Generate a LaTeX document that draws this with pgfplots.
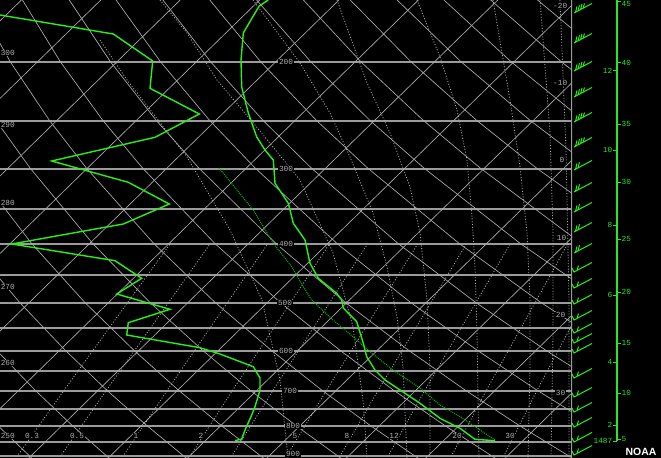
\documentclass[border=0pt]{standalone}
\usepackage{pgfplots}
\pgfplotsset{compat=1.18}
\usepackage{fontspec}
\setmainfont{Liberation Sans}
\newfontfamily\monofont{Liberation Mono}
\definecolor{gridc}{RGB}{175,175,175}
\definecolor{isobar}{RGB}{155,155,155}
\definecolor{snd}{RGB}{40,240,20}
\definecolor{parcel}{RGB}{0,190,0}
\definecolor{scalec}{RGB}{40,230,40}

% wind barbs: shaft up to the right, feathers near the base
\pgfdeclareplotmark{barb3}{%
  \pgfpathmoveto{\pgfpoint{0bp}{0bp}}\pgfpathlineto{\pgfpoint{18bp}{9.5bp}}%
  \pgfpathmoveto{\pgfpoint{1.5bp}{0.8bp}}\pgfpathlineto{\pgfpoint{3bp}{6.5bp}}%
  \pgfpathmoveto{\pgfpoint{4bp}{2.1bp}}\pgfpathlineto{\pgfpoint{5.5bp}{7.8bp}}%
  \pgfpathmoveto{\pgfpoint{6.5bp}{3.4bp}}\pgfpathlineto{\pgfpoint{8bp}{9.1bp}}%
  \pgfpathmoveto{\pgfpoint{9bp}{4.7bp}}\pgfpathlineto{\pgfpoint{10.5bp}{9.5bp}}%
  \pgfusepathqstroke}
\pgfdeclareplotmark{barb2}{%
  \pgfpathmoveto{\pgfpoint{0bp}{0bp}}\pgfpathlineto{\pgfpoint{18bp}{9.5bp}}%
  \pgfpathmoveto{\pgfpoint{1.5bp}{0.8bp}}\pgfpathlineto{\pgfpoint{3bp}{6.5bp}}%
  \pgfpathmoveto{\pgfpoint{4bp}{2.1bp}}\pgfpathlineto{\pgfpoint{5.5bp}{7.8bp}}%
  \pgfusepathqstroke}
\pgfdeclareplotmark{barb1}{%
  \pgfpathmoveto{\pgfpoint{-2bp}{4bp}}\pgfpathlineto{\pgfpoint{0bp}{0bp}}%
  \pgfpathlineto{\pgfpoint{18bp}{9.5bp}}%
  \pgfpathmoveto{\pgfpoint{3bp}{1.6bp}}\pgfpathlineto{\pgfpoint{4.5bp}{6.5bp}}%
  \pgfusepathqstroke}

\pgfplotsset{
  gl/.style={draw=gridc, line width=0.65bp, no marks},
  dl/.style={draw=gridc, line width=0.8bp, no marks, dash pattern=on 1bp off 1.8bp},
}
\tikzset{
  lab/.style={font=\monofont\fontsize{7.8}{8}\selectfont, text=gridc, fill=black, inner sep=0.6bp},
  glab/.style={font=\monofont\fontsize{7.8}{8}\selectfont, text=scalec, inner sep=0.5bp},
}

\begin{document}
\begin{tikzpicture}
\fill[black] (0,0) rectangle (661bp,458bp);
\begin{axis}[at={(0,0)}, anchor=south west, scale only axis, width=572bp, height=458bp,
  xmin=0, xmax=572, ymin=0, ymax=458, y dir=reverse, hide axis, clip=true]

% isobars 200..900 hPa
\pgfplotsinvokeforeach{62,121,169,209,244,275,303,328,351,371,391,409,426,442,456}{
  \addplot[draw=isobar, line width=1.1bp] coordinates {(0,#1) (572,#1)};
}
% isotherms -90..30 C
\addplot[gl] coordinates {(21.4,0) (-447.6,458)};
\addplot[gl] coordinates {(100.8,0) (-368.2,458)};
\addplot[gl] coordinates {(180.2,0) (-288.8,458)};
\addplot[gl] coordinates {(259.6,0) (-209.4,458)};
\addplot[gl] coordinates {(339.0,0) (-130.0,458)};
\addplot[gl] coordinates {(418.4,0) (-50.6,458)};
\addplot[gl] coordinates {(497.8,0) (28.8,458)};
\addplot[gl] coordinates {(577.2,0) (108.2,458)};
\addplot[gl] coordinates {(656.6,0) (187.6,458)};
\addplot[gl] coordinates {(736.0,0) (267.0,458)};
\addplot[gl] coordinates {(815.4,0) (346.4,458)};
\addplot[gl] coordinates {(894.8,0) (425.8,458)};
\addplot[gl] coordinates {(974.2,0) (505.2,458)};
% dry adiabats 250..420 K
\addplot[gl] coordinates {(-72.4,349.8)(-36.6,390.2)(-2.6,425.2)(32.8,459)};
\addplot[gl] coordinates {(-45.8,302.1)(-3.8,349.8)(35.1,390.2)(71.9,425.2)(110.1,459)};
\addplot[gl] coordinates {(-82.4,168.2)(-29.4,243.6)(19.3,302.1)(64.8,349.8)(106.8,390.2)(146.4,425.2)(187.4,459)};
\addplot[gl] coordinates {(-57.4,120.5)(-26.1,168.2)(31.7,243.6)(84.5,302.1)(133.4,349.8)(178.5,390.2)(220.9,425.2)(264.7,459)};
\addplot[gl] coordinates {(-39.8,62)(-4,120.5)(30.2,168.2)(92.8,243.6)(149.6,302.1)(202,349.8)(250.2,390.2)(295.4,425.2)(342,459)};
\addplot[gl] coordinates {(-27.1,-4.8)(10.4,62)(49.5,120.5)(86.5,168.2)(153.9,243.6)(214.7,302.1)(270.7,349.8)(321.9,390.2)(369.9,425.2)(419.3,459)};
\addplot[gl] coordinates {(19.5,-4.8)(60.5,62)(102.9,120.5)(142.7,168.2)(215,243.6)(279.8,302.1)(339.3,349.8)(393.6,390.2)(444.3,425.2)(496.5,459)};
\addplot[gl] coordinates {(66.1,-4.8)(110.6,62)(156.3,120.5)(199,168.2)(276,243.6)(344.9,302.1)(407.9,349.8)(465.3,390.2)(518.8,425.2)(573.8,459)};
\addplot[gl] coordinates {(112.6,-4.8)(160.7,62)(209.7,120.5)(255.3,168.2)(337.1,243.6)(410.1,302.1)(476.5,349.8)(537,390.2)(593.3,425.2)};
\addplot[gl] coordinates {(159.2,-4.8)(210.8,62)(263.1,120.5)(311.5,168.2)(398.2,243.6)(475.2,302.1)(545.1,349.8)(608.7,390.2)};
\addplot[gl] coordinates {(205.8,-4.8)(260.9,62)(316.5,120.5)(367.8,168.2)(459.3,243.6)(540.3,302.1)(613.7,349.8)};
\addplot[gl] coordinates {(252.4,-4.8)(311,62)(370,120.5)(424.1,168.2)(520.4,243.6)(605.4,302.1)};
\addplot[gl] coordinates {(298.9,-4.8)(361.1,62)(423.4,120.5)(480.4,168.2)(581.5,243.6)};
\addplot[gl] coordinates {(345.5,-4.8)(411.2,62)(476.8,120.5)(536.6,168.2)(642.6,243.6)};
\addplot[gl] coordinates {(392.1,-4.8)(461.3,62)(530.2,120.5)(592.9,168.2)};
\addplot[gl] coordinates {(438.7,-4.8)(511.4,62)(583.6,120.5)};
\addplot[gl] coordinates {(485.2,-4.8)(561.6,62)(637,120.5)};
\addplot[gl] coordinates {(531.8,-4.8)(611.7,62)};
% mixing ratio lines 0.3..30 g/kg (910 to 400 hPa)
\addplot[dl] coordinates {(15.2,459)(64.1,390.2)(170.3,243.6)};
\addplot[dl] coordinates {(58.5,459)(106.4,390.2)(210.3,243.6)};
\addplot[dl] coordinates {(121.2,459)(167.3,390.2)(267.9,243.6)};
\addplot[dl] coordinates {(188.3,459)(232.6,390.2)(329.6,243.6)};
\addplot[dl] coordinates {(229.9,459)(273.1,390.2)(367.7,243.6)};
\addplot[dl] coordinates {(284.9,459)(326.5,390.2)(417.9,243.6)};
\addplot[dl] coordinates {(338.3,459)(378.2,390.2)(466.5,243.6)};
\addplot[dl] coordinates {(386.4,459)(424.9,390.2)(510.3,243.6)};
\addplot[dl] coordinates {(449.8,459)(486.4,390.2)(567.8,243.6)};
\addplot[dl] coordinates {(502.3,459)(537.1,390.2)(615.2,243.6)};
% saturation adiabats
\addplot[dl] coordinates {(100,40)(127,80)(187,157)(230,230)(262,300)(280,380)(288,458)};
\addplot[dl] coordinates {(160,0)(187,33)(217,80)(255,125)(300,180)(333,253)(353,327)(363,400)(367,458)};
\addplot[dl] coordinates {(253,0)(300,63)(330,113)(350,157)(373,213)(387,267)(397,317)(403,367)(407,458)};
\addplot[dl] coordinates {(337,0)(367,83)(390,133)(410,187)(420,233)(427,300)(430,367)(430,458)};
\addplot[dl] coordinates {(417,0)(440,57)(457,110)(467,160)(472,217)(475,267)(477,333)(478,400)(479,458)};
\addplot[dl] coordinates {(493,0)(510,100)(520,167)(527,233)(530,300)(530,367)(528,458)};
\addplot[dl] coordinates {(540,0)(550,133)(553,233)(553,333)(551,458)};
\addplot[dl] coordinates {(560,0)(566,150)(569,300)(569,458)};
% right border
\addplot[draw=isobar, line width=1.1bp] coordinates {(572,0) (572,458)};

% labels
\node[lab, anchor=west] at (axis cs:0,53) {300};
\node[lab, anchor=west] at (axis cs:0,125) {290};
\node[lab, anchor=west] at (axis cs:0,203) {280};
\node[lab, anchor=west] at (axis cs:0,287) {270};
\node[lab, anchor=west] at (axis cs:0,363) {260};
\node[lab, anchor=west] at (axis cs:0,436) {250};
\node[lab] at (axis cs:286,62) {200};
\node[lab] at (axis cs:286,169) {300};
\node[lab] at (axis cs:286,244) {400};
\node[lab] at (axis cs:285,303) {500};
\node[lab] at (axis cs:286,351) {600};
\node[lab] at (axis cs:290,391) {700};
\node[lab] at (axis cs:293,426) {800};
\node[lab] at (axis cs:293,454) {900};
\node[lab, anchor=east] at (axis cs:568,6) {-20};
\node[lab, anchor=east] at (axis cs:568,83) {-10};
\node[lab, anchor=east] at (axis cs:565,160) {0};
\node[lab, anchor=east] at (axis cs:567,238) {10};
\node[lab, anchor=east] at (axis cs:566,315) {20};
\node[lab, anchor=east] at (axis cs:566,393) {30};
\node[lab] at (axis cs:32,436) {0.3};
\node[lab] at (axis cs:77,436) {0.5};
\node[lab] at (axis cs:136,436) {1};
\node[lab] at (axis cs:201,436) {2};
\node[lab] at (axis cs:295,436) {5};
\node[lab] at (axis cs:347,436) {8};
\node[lab] at (axis cs:394,436) {12};
\node[lab] at (axis cs:457,436) {20};
\node[lab] at (axis cs:510,436) {30};

% parcel path
\addplot[draw=parcel, line width=1bp, dash pattern=on 1bp off 1bp] coordinates {
 (219,168)(253.3,210)(273.3,243.3)(291.7,266.7)(303.3,286.7)(311.7,300)(333,320)
 (353,336.7)(371.7,353)(393,370)(420,388)(440,405)(460,416.7)(495,440)};
% temperature
\addplot[draw=snd, line width=1.4bp] coordinates {
 (268.3,0)(259.3,6)(255,13)(243.3,33)(241,60)(241.7,87)(248.3,113)(256.7,137)(265,150)
 (273.3,160)(275,183.3)(288.3,203.3)(293.3,223.3)(305,240)(310,263.3)(318.3,278.3)
 (336.7,293.3)(341.7,300)(343.3,308)(356.7,321.7)(363.3,343.3)(366.7,356.7)(375,370)
 (385,380)(405,393.3)(420,403.3)(440,418.3)(460,428.3)(475,439.3)(495,440.7)};
% dew point
\addplot[draw=snd, line width=1.4bp] coordinates {
 (0,15)(113.3,34)(152.7,61)(150,88.3)(199.3,114)(155,137.3)(51.7,161)(128.3,182.3)
 (169.3,204)(123.3,224)(11.7,244)(115,260.7)(141.7,278.3)(116.7,294)(170,309.3)
 (128.3,322.7)(126.7,335)(200,347.7)(220,354)(253.3,366.7)(260,378)(260,390)
 (255,406.7)(251.7,415)(245,430)(241.7,439)(235,440.7)};
\end{axis}

\begin{axis}[at={(572bp,0)}, anchor=south west, scale only axis, width=89bp, height=458bp,
  xmin=572, xmax=661, ymin=0, ymax=458, y dir=reverse, hide axis, clip=false]
\addplot[only marks, mark=barb3, draw=snd, line width=1bp] coordinates {
 (574,13)(574,43)(574,71)(574,97)(574,122)(574,147)};
\addplot[only marks, mark=barb2, draw=snd, line width=1bp] coordinates {
 (574,170)(574,192)(574,212)(574,232)(574,253)};
\addplot[only marks, mark=barb1, draw=snd, line width=1bp] coordinates {
 (574,272)(574,288)(574,304)(574,320)(574,333)(574,343)(574,353)(574,378)(574,397)
 (574,412)(574,427)(574,442)(574,455)};
% height scale
\addplot[draw=scalec, line width=1.2bp] coordinates {(617,0) (617,441)};
\pgfplotsinvokeforeach{425,362,295,225,150,71,441}{
  \addplot[draw=scalec, line width=1bp] coordinates {(613,#1) (617,#1)};
}
\pgfplotsinvokeforeach{439,393,343,292,239,182,124,63,2}{
  \addplot[draw=scalec, line width=1bp] coordinates {(617,#1) (621,#1)};
}
\node[glab, anchor=east] at (axis cs:613,425) {2};
\node[glab, anchor=east] at (axis cs:613,362) {4};
\node[glab, anchor=east] at (axis cs:613,295) {6};
\node[glab, anchor=east] at (axis cs:613,225) {8};
\node[glab, anchor=east] at (axis cs:613,150) {10};
\node[glab, anchor=east] at (axis cs:613,71) {12};
\node[glab, anchor=east] at (axis cs:613,441) {1487};
\node[glab, anchor=west] at (axis cs:621,439) {5};
\node[glab, anchor=west] at (axis cs:621,393) {10};
\node[glab, anchor=west] at (axis cs:621,343) {15};
\node[glab, anchor=west] at (axis cs:621,292) {20};
\node[glab, anchor=west] at (axis cs:621,239) {25};
\node[glab, anchor=west] at (axis cs:621,182) {30};
\node[glab, anchor=west] at (axis cs:621,124) {35};
\node[glab, anchor=west] at (axis cs:621,63) {40};
\node[glab, anchor=west] at (axis cs:621,3.5) {45};
\node[font=\bfseries\fontsize{10.5}{12}\selectfont, text=white, inner sep=0pt] at (axis cs:641,452) {NOAA};
\end{axis}
\pgfresetboundingbox
\path (0,0) rectangle (661bp,458bp);
\end{tikzpicture}
\end{document}
